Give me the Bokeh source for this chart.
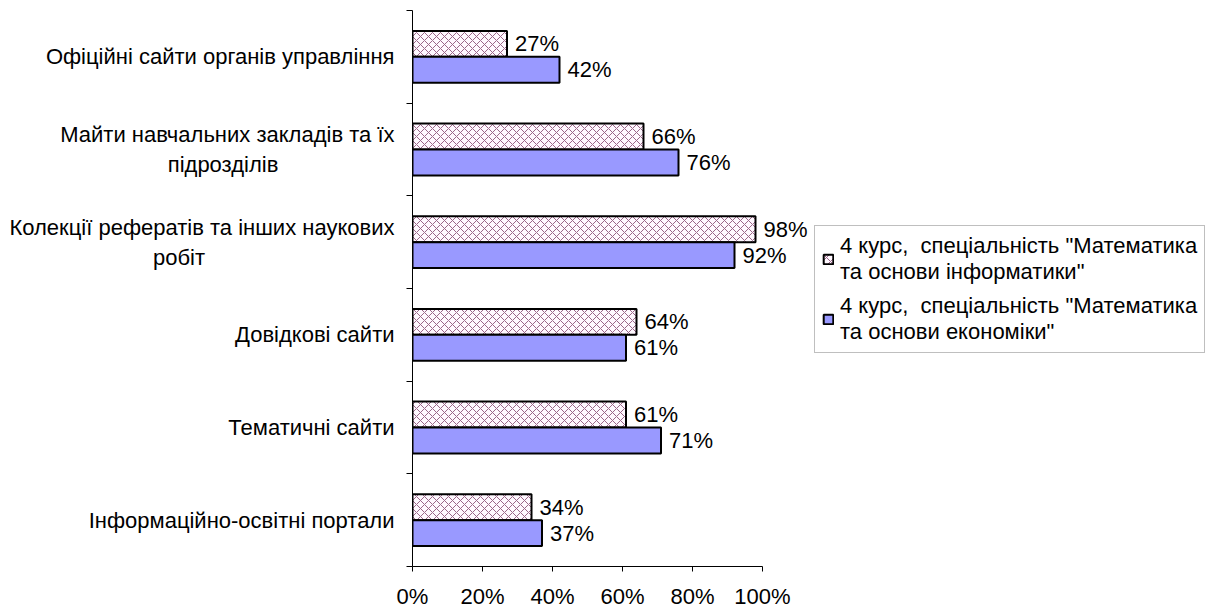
from bokeh.plotting import figure
from bokeh.models import (ColumnDataSource, FixedTicker, PrintfTickFormatter,
                          Legend, LegendItem, Range1d, LabelSet)
from bokeh.embed import file_html
from bokeh.resources import INLINE
from bokeh.core.properties import value

# ---- data (bottom to top) ----
NB = "\u00a0"
categories = [
    "Інформаційно-освітні портали",
    "Тематичні сайти",
    "Довідкові сайти",
    "Колекції рефератів та інших наукових\nробіт" + NB * 31,
    "Майти навчальних закладів та їх\nпідрозділів" + NB * 19,
    "Офіційні сайти органів управління",
]
informatics = [34, 61, 64, 98, 66, 27]
economics = [37, 71, 61, 92, 76, 42]
series_names = [
    '4 курс,  спеціальність "Математика\nта основи інформатики"',
    '4 курс,  спеціальність "Математика\nта основи економіки"',
]
x_ticks = [0, 20, 40, 60, 80, 100]

FONT = "Liberation Sans"
FS = "22px"

centers = [i + 0.5 for i in range(len(categories))]
src_a = ColumnDataSource(dict(y=[c + 0.14 for c in centers], v=informatics,
                              lab=[f"{v}%" for v in informatics]))
src_b = ColumnDataSource(dict(y=[c - 0.14 for c in centers], v=economics,
                              lab=[f"{v}%" for v in economics]))

# frame is wider than the 0-100 axis so the value labels are not clipped
p = figure(frame_width=400, frame_height=556,
           x_range=Range1d(0, 400 / 3.5), y_range=Range1d(0, 6),
           output_backend="svg", toolbar_location=None,
           min_border_left=412, min_border_top=10, min_border_bottom=42,
           min_border_right=398)
p.outline_line_color = None
p.xgrid.grid_line_color = None
p.ygrid.grid_line_color = None
p.background_fill_color = "white"

ra = p.hbar(y="y", right="v", left=0, height=0.28, source=src_a,
            fill_color="#FFF8FF", line_color="black", line_width=2,
            hatch_pattern="diagonal_cross", hatch_color="#9a6688",
            hatch_scale=8, hatch_weight=1)
rb = p.hbar(y="y", right="v", left=0, height=0.28, source=src_b,
            fill_color="#9999FF", line_color="black", line_width=2)

for s in (src_a, src_b):
    p.add_layout(LabelSet(x="v", y="y", text="lab", source=s, x_offset=8,
                          text_baseline="middle", text_align="left",
                          text_font=value(FONT), text_font_size=value(FS),
                          text_color="black"))

# y axis
p.yaxis.ticker = FixedTicker(ticks=centers, minor_ticks=list(range(len(categories) + 1)))
p.yaxis.major_label_overrides = {c: lab for c, lab in zip(centers, categories)}
p.yaxis.major_tick_line_color = None
p.yaxis.major_tick_out = 0
p.yaxis.major_tick_in = 0
p.yaxis.minor_tick_out = 6
p.yaxis.minor_tick_in = 0
p.yaxis.minor_tick_line_color = "black"
p.yaxis.axis_line_color = "black"
p.yaxis.major_label_standoff = 12
p.yaxis.major_label_text_font = FONT
p.yaxis.major_label_text_font_size = FS
p.yaxis.major_label_text_color = "black"

# x axis
p.xaxis.ticker = FixedTicker(ticks=x_ticks, minor_ticks=[])
p.xaxis.bounds = (0, 100)
p.xaxis.formatter = PrintfTickFormatter(format="%d%%")
p.xaxis.major_tick_out = 5
p.xaxis.major_tick_in = 0
p.xaxis.major_tick_line_color = "black"
p.xaxis.axis_line_color = "black"
p.xaxis.major_label_standoff = 12
p.xaxis.major_label_text_font = FONT
p.xaxis.major_label_text_font_size = FS
p.xaxis.major_label_text_color = "black"

legend = Legend(items=[LegendItem(label=series_names[0], renderers=[ra]),
                       LegendItem(label=series_names[1], renderers=[rb])],
                location=(2, 213))
legend.label_text_font = FONT
legend.label_text_font_size = FS
legend.label_text_line_height = 1.0
legend.label_text_color = "black"
legend.glyph_width = 12
legend.glyph_height = 12
legend.label_standoff = 6
legend.border_line_color = "#808080"
legend.border_line_width = 1
legend.padding = 7
legend.spacing = 8
legend.margin = 0
p.add_layout(legend, "right")

open("out.html", "w").write(file_html(p, INLINE))
